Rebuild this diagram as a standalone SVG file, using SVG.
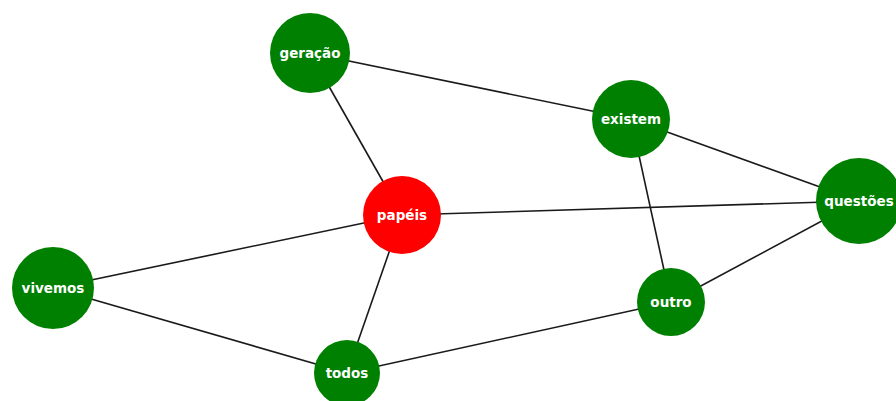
<svg xmlns="http://www.w3.org/2000/svg" width="896" height="401" viewBox="0 0 896 401">
<style>
.edge{stroke:#1a1a1a;stroke-width:1.6;fill:none}
.n{fill:#008000}
.hub{fill:#ff0000}
text{font-family:"DejaVu Sans","Liberation Sans",sans-serif;font-weight:bold;font-size:13.5px;fill:#ffffff;text-anchor:middle;dominant-baseline:central}
</style>
<rect width="896" height="401" fill="#ffffff"/>
<g id="connectors">
<line class="edge" x1="310" y1="53" x2="631" y2="119"/>
<line class="edge" x1="310" y1="53" x2="402" y2="215"/>
<line class="edge" x1="402" y1="215" x2="859" y2="201"/>
<line class="edge" x1="402" y1="215" x2="53" y2="288"/>
<line class="edge" x1="402" y1="215" x2="347" y2="373"/>
<line class="edge" x1="53" y1="288" x2="347" y2="373"/>
<line class="edge" x1="347" y1="373" x2="671" y2="302"/>
<line class="edge" x1="671" y1="302" x2="631" y2="119"/>
<line class="edge" x1="671" y1="302" x2="859" y2="201"/>
<line class="edge" x1="631" y1="119" x2="859" y2="201"/>
</g>
<g id="node-geracao"><circle class="n" cx="310" cy="53" r="40"/><text x="310" y="53">geração</text></g>
<g id="node-existem"><circle class="n" cx="631" cy="119" r="39"/><text x="631" y="119">existem</text></g>
<g id="node-questoes"><circle class="n" cx="859" cy="201" r="43"/><text x="859" y="201">questões</text></g>
<g id="node-papeis"><circle class="hub" cx="402" cy="215" r="39"/><text x="402" y="215">papéis</text></g>
<g id="node-vivemos"><circle class="n" cx="53" cy="288" r="41"/><text x="53" y="288">vivemos</text></g>
<g id="node-outro"><circle class="n" cx="671" cy="302" r="34"/><text x="671" y="302">outro</text></g>
<g id="node-todos"><circle class="n" cx="347" cy="373" r="33"/><text x="347" y="373">todos</text></g>
</svg>
